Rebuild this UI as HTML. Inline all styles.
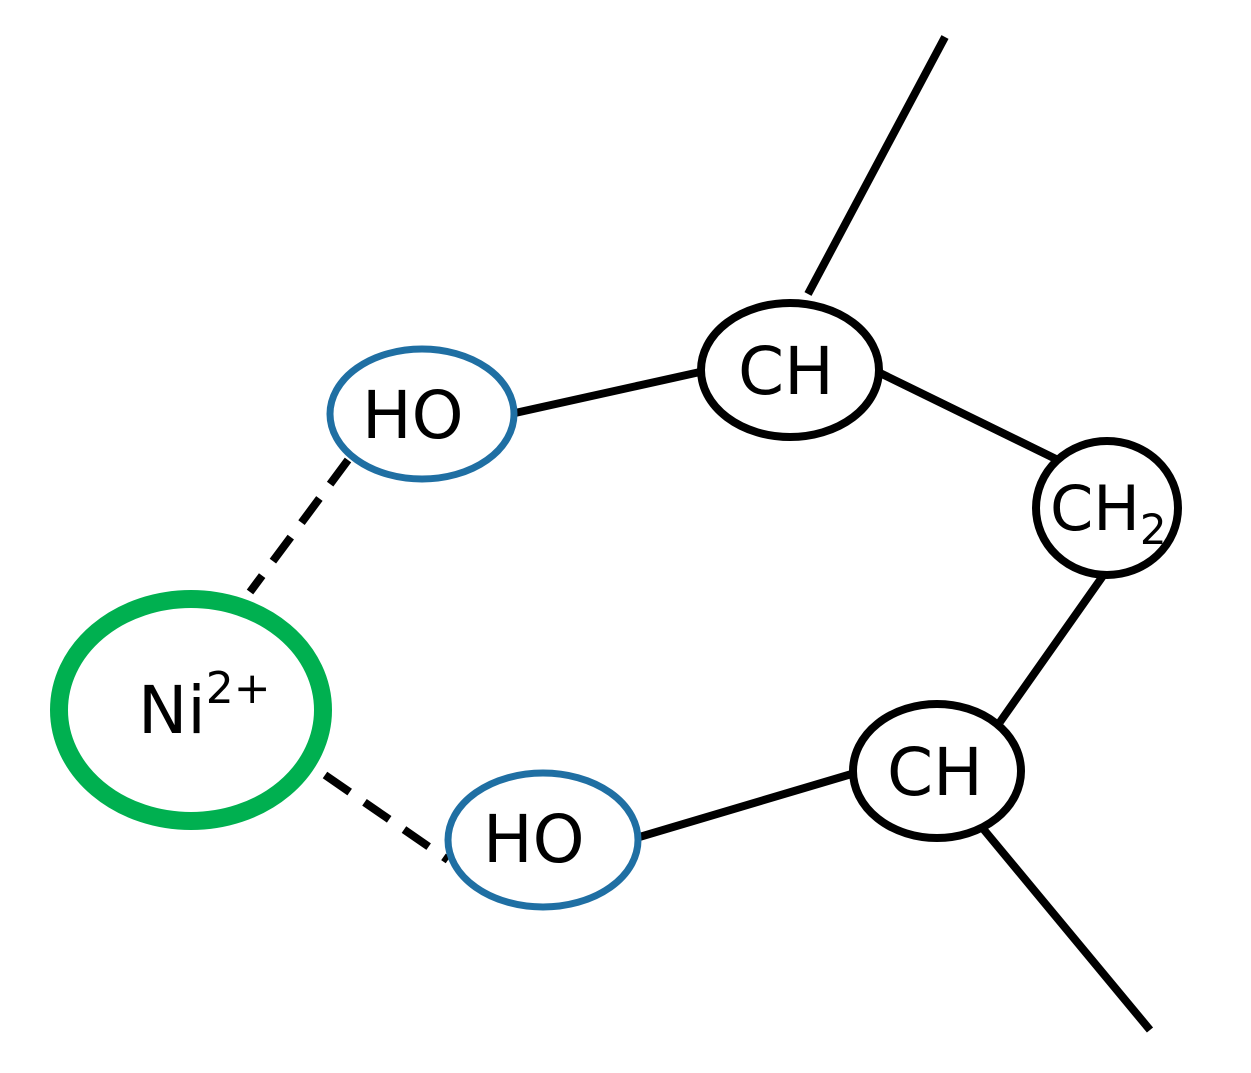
<!DOCTYPE html>
<html><head><style>html,body{margin:0;padding:0;background:#fff}svg{display:block}</style></head>
<body>
<svg width="1251" height="1073" viewBox="0 0 1251 1073" xmlns="http://www.w3.org/2000/svg">
<g stroke="#000" stroke-width="8" fill="none">
<line x1="808" y1="294" x2="945" y2="37"/>
<line x1="515" y1="413" x2="700" y2="372"/>
<line x1="880" y1="373" x2="1062" y2="462"/>
<line x1="1105" y1="573" x2="1000" y2="722"/>
<line x1="855" y1="773" x2="636" y2="838"/>
<line x1="980" y1="825" x2="1150" y2="1030"/>
<line x1="348" y1="460" x2="250" y2="592" stroke-dasharray="30,18"/>
<line x1="325" y1="775" x2="448" y2="860" stroke-dasharray="30,18"/>
</g>
<ellipse cx="191" cy="710" rx="132" ry="111" fill="#fff" stroke="#00b050" stroke-width="18"/>
<ellipse cx="422" cy="414" rx="92" ry="65" fill="#fff" stroke="#1f6fa3" stroke-width="7"/>
<ellipse cx="543" cy="840" rx="95" ry="67" fill="#fff" stroke="#1f6fa3" stroke-width="7"/>
<ellipse cx="790" cy="370" rx="89" ry="67" fill="#fff" stroke="#000" stroke-width="8"/>
<ellipse cx="1107" cy="508" rx="71" ry="67" fill="#fff" stroke="#000" stroke-width="8"/>
<ellipse cx="937" cy="771" rx="84" ry="67" fill="#fff" stroke="#000" stroke-width="8"/>
<g font-family="DejaVu Sans, sans-serif" font-size="66" fill="#000">
<text x="138" y="733">Ni<tspan font-size="44" dy="-30">2+</tspan></text>
<text x="362" y="438">HO</text>
<text x="483" y="862">HO</text>
<text x="738" y="394">CH</text>
<text x="1050" y="530" font-size="62">CH<tspan font-size="42" dy="14">2</tspan></text>
<text x="887" y="795">CH</text>
</g>
</svg>
</body></html>
